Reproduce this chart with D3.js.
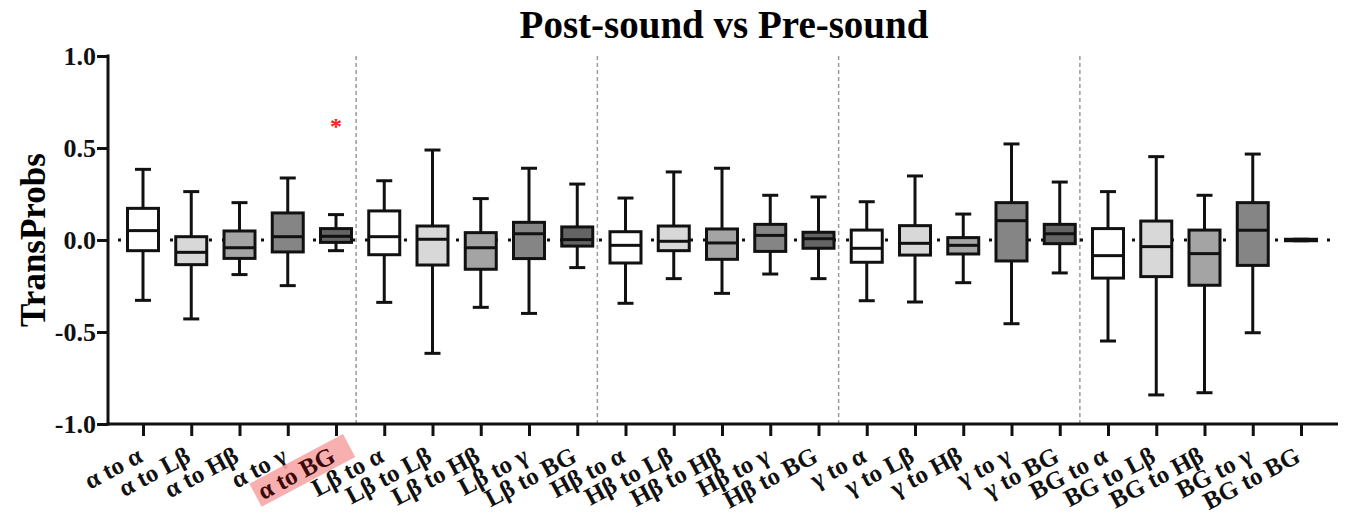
<!DOCTYPE html>
<html>
<head>
<meta charset="utf-8">
<script src="https://cdn.jsdelivr.net/npm/d3@7"></script>
<style>
  body { margin: 0; background: #fff; }
  svg text { font-family: "Liberation Serif", "Times New Roman", serif; font-weight: bold; }
</style>
</head>
<body>
<svg width="1349" height="517"></svg>
<script>
const categories = [
  "α to α","α to Lβ","α to Hβ","α to γ","α to BG",
  "Lβ to α","Lβ to Lβ","Lβ to Hβ","Lβ to γ","Lβ to BG",
  "Hβ to α","Hβ to Lβ","Hβ to Hβ","Hβ to γ","Hβ to BG",
  "γ to α","γ to Lβ","γ to Hβ","γ to γ","γ to BG",
  "BG to α","BG to Lβ","BG to Hβ","BG to γ","BG to BG"
];
const maxVals = [0.384,0.263,0.203,0.337,0.138, 0.322,0.489,0.225,0.390,0.304,
                 0.228,0.370,0.390,0.243,0.234, 0.208,0.348,0.141,0.522,0.315,
                 0.263,0.453,0.243,0.467,0.004];
const q3Vals  = [0.172,0.018,0.049,0.147,0.062, 0.158,0.076,0.040,0.096,0.071,
                 0.045,0.076,0.060,0.085,0.042, 0.054,0.078,0.013,0.203,0.085,
                 0.062,0.103,0.054,0.203,0.004];
const medVals = [0.051,-0.067,-0.042,0.018,0.020, 0.018,0.004,-0.042,0.034,0.002,
                 -0.029,-0.007,-0.016,0.025,0.007, -0.045,-0.018,-0.029,0.105,0.034,
                 -0.085,-0.036,-0.074,0.053,0.000];
const q1Vals  = [-0.058,-0.134,-0.100,-0.065,-0.013, -0.080,-0.136,-0.159,-0.101,-0.033,
                 -0.125,-0.058,-0.105,-0.062,-0.045, -0.121,-0.082,-0.076,-0.114,-0.020,
                 -0.207,-0.199,-0.246,-0.138,-0.004];
const minVals = [-0.328,-0.429,-0.188,-0.248,-0.058, -0.339,-0.616,-0.366,-0.399,-0.150,
                 -0.344,-0.210,-0.290,-0.185,-0.210, -0.330,-0.337,-0.232,-0.455,-0.179,
                 -0.549,-0.842,-0.830,-0.504,-0.004];
const yTicks = [-1.0,-0.5,0.0,0.5,1.0];
const fills = ["#ffffff","#d8d8d8","#a4a4a4","#858585","#646464"];
const highlighted = "α to BG";
const starred = "α to BG";

const DATA = categories.map((c,i)=>({name:c, max:maxVals[i], q3:q3Vals[i], med:medVals[i], q1:q1Vals[i], min:minVals[i], idx:i}));

const svg = d3.select("svg");
const pLeft = 108, pRight = 1338, pTop = 56, pBottom = 424;

const xScale = d3.scalePoint().domain(categories).range([143,1301]);
const yScale = d3.scaleLinear().domain([-1,1]).range([pBottom,pTop]);
const boxW = 31, capW = 16;

// title
svg.append("text")
   .attr("x",724).attr("y",38)
   .attr("text-anchor","middle")
   .attr("font-size",39)
   .text("Post-sound vs Pre-sound");

// y label
svg.append("text")
   .attr("transform","translate(45,240) rotate(-90)")
   .attr("text-anchor","middle")
   .attr("font-size",35)
   .text("TransProbs");

// group separators
d3.range(1,5).forEach(g=>{
  const xs = (xScale(categories[g*5-1]) + xScale(categories[g*5]))/2 - 4;
  svg.append("line")
     .attr("x1",xs).attr("x2",xs).attr("y1",pTop).attr("y2",pBottom)
     .attr("stroke","#9a9a9a").attr("stroke-width",1.5)
     .attr("stroke-dasharray","4,3");
});

// zero dotted line
svg.append("line")
   .attr("x1",pLeft+10).attr("x2",pRight).attr("y1",yScale(0)).attr("y2",yScale(0))
   .attr("stroke","#111").attr("stroke-width",3)
   .attr("stroke-dasharray","3,10");

const boxes = svg.append("g").selectAll("g.box")
   .data(DATA).enter().append("g").classed("box",true)
   .attr("stroke","#111").attr("stroke-width",3);

boxes.append("line")
     .attr("x1",d=>xScale(d.name)).attr("x2",d=>xScale(d.name))
     .attr("y1",d=>yScale(d.max)).attr("y2",d=>yScale(d.min));
boxes.append("line")
     .attr("x1",d=>xScale(d.name)-capW/2).attr("x2",d=>xScale(d.name)+capW/2)
     .attr("y1",d=>yScale(d.max)).attr("y2",d=>yScale(d.max));
boxes.append("line")
     .attr("x1",d=>xScale(d.name)-capW/2).attr("x2",d=>xScale(d.name)+capW/2)
     .attr("y1",d=>yScale(d.min)).attr("y2",d=>yScale(d.min));
boxes.append("rect")
     .attr("x",d=>xScale(d.name)-boxW/2).attr("width",boxW)
     .attr("y",d=>yScale(d.q3)).attr("height",d=>yScale(d.q1)-yScale(d.q3))
     .attr("fill",d=>fills[d.idx%5]);
boxes.append("line")
     .attr("x1",d=>xScale(d.name)-boxW/2).attr("x2",d=>xScale(d.name)+boxW/2)
     .attr("y1",d=>yScale(d.med)).attr("y2",d=>yScale(d.med));

// star
svg.append("text")
   .attr("x",xScale(starred)).attr("y",134)
   .attr("text-anchor","middle")
   .attr("font-size",24).attr("fill","#ff1a1a")
   .text("*");

// y axis
const yAxis = svg.append("g")
   .attr("transform",`translate(${pLeft},0)`)
   .call(d3.axisLeft(yScale).tickValues(yTicks).tickFormat(d3.format(".1f")).tickSize(11).tickSizeOuter(0));
yAxis.select(".domain").attr("stroke","#111").attr("stroke-width",3).attr("d",`M0,${pTop-1.5}V${pBottom+1.5}`);
yAxis.selectAll(".tick line").attr("stroke","#111").attr("stroke-width",3);
yAxis.selectAll(".tick text")
     .attr("font-size",26).attr("fill","#111").attr("x",-12).attr("dy","0.34em")
     .text(d=>d < 0 ? "-" + Math.abs(d).toFixed(1) : d.toFixed(1));

// x axis
const xAxis = svg.append("g")
   .attr("transform",`translate(0,${pBottom})`)
   .call(d3.axisBottom(xScale).tickSize(12).tickSizeOuter(0).tickFormat(""));
xAxis.select(".domain").attr("stroke","#111").attr("stroke-width",3).attr("d",`M${pLeft-1.5},0H${pRight}`);
xAxis.selectAll(".tick line").attr("stroke","#111").attr("stroke-width",3);

const labels = svg.append("g").selectAll("g.lab")
   .data(categories).enter().append("g").classed("lab",true)
   .attr("transform",d=>`translate(${xScale(d)+1},461) rotate(-28)`);

labels.filter(d=>d===highlighted)
   .append("rect")
   .attr("x",-88).attr("y",-21).attr("width",106).attr("height",26)
   .attr("fill","#f6a6a6").attr("opacity",0.9);

labels.append("text")
   .attr("text-anchor","end")
   .attr("font-size",25)
   .attr("fill",d=>d===highlighted ? "#3a0a0a" : "#111")
   .text(d=>d);
</script>
</body>
</html>
